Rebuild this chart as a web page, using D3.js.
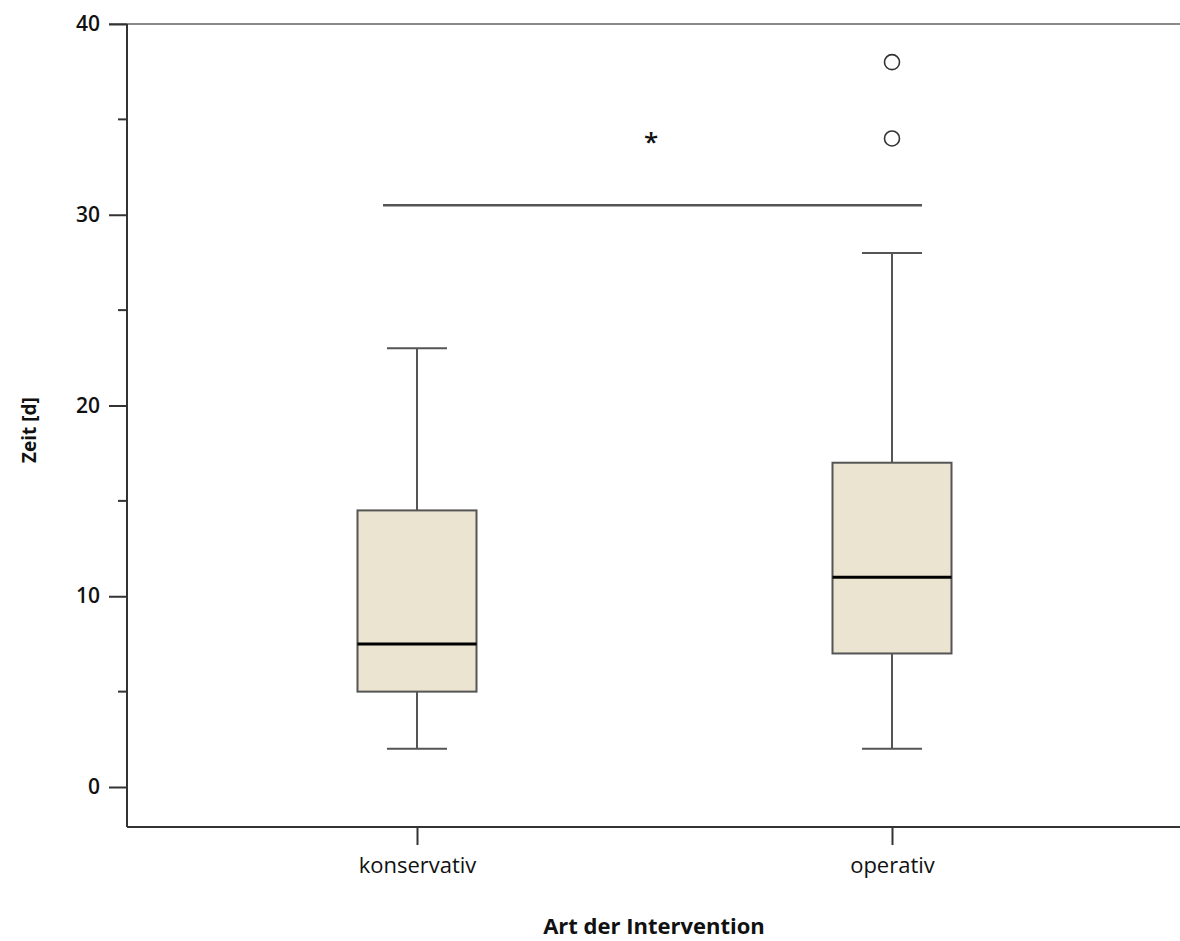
<!DOCTYPE html>
<html>
<head>
<meta charset="utf-8">
<script src="https://cdn.jsdelivr.net/npm/d3@7"></script>
<style>
  body { margin: 0; background: #fff; }
  text { font-family: "Open Sans", "Noto Sans", sans-serif; fill: #111; }
</style>
</head>
<body>
<svg id="chart" width="1180" height="941"></svg>
<script>
// categories and box statistics (days)
var categories = ['konservativ', 'operativ'];
var whiskerLow = [2, 2];
var q1 = [5, 7];
var median = [7.5, 11];
var q3 = [14.5, 17];
var whiskerHigh = [23, 28];
var outliers = [[], [34, 38]];
var yTicks = [0, 10, 20, 30, 40];
var yMinorTicks = [5, 15, 25, 35];
var sigLevel = 30.5;
var sigStarY = 34;

var svg = d3.select('#chart');
var plotLeft = 127, plotTop = 24, plotRight = 1180, plotBottom = 827;

var y = d3.scaleLinear().domain([0, 40]).range([787, plotTop]);
var x = d3.scalePoint().domain(categories).range([417, 892]);

var boxW = 119, capW = 60;

// top frame line
svg.append('line')
  .attr('x1', 109).attr('x2', plotRight)
  .attr('y1', y(40)).attr('y2', y(40))
  .attr('stroke', '#8a8a8a').attr('stroke-width', 2);

// y axis
var yAxis = d3.axisLeft(y).tickValues(yTicks).tickSize(18).tickPadding(9);
var gy = svg.append('g').attr('transform', 'translate(' + plotLeft + ',0)').call(yAxis);
gy.select('.domain').remove();
gy.selectAll('.tick line').attr('stroke', '#333').attr('stroke-width', 2);
gy.selectAll('.tick text').style('font-size', '21px').style('font-weight', '600');
gy.selectAll('.minor').data(yMinorTicks).enter().append('line')
  .attr('x1', -9).attr('x2', 0)
  .attr('y1', function(d){ return y(d); }).attr('y2', function(d){ return y(d); })
  .attr('stroke', '#333').attr('stroke-width', 2);
svg.append('line')
  .attr('x1', plotLeft).attr('x2', plotLeft).attr('y1', plotTop).attr('y2', plotBottom)
  .attr('stroke', '#333').attr('stroke-width', 2);

// x axis
var xAxis = d3.axisBottom(x).tickSize(18).tickPadding(12);
var gx = svg.append('g').attr('transform', 'translate(0,' + plotBottom + ')').call(xAxis);
gx.select('.domain').remove();
gx.selectAll('.tick line').attr('stroke', '#333').attr('stroke-width', 2);
gx.selectAll('.tick text').style('font-size', '22px');
svg.append('line')
  .attr('x1', plotLeft).attr('x2', plotRight).attr('y1', plotBottom).attr('y2', plotBottom)
  .attr('stroke', '#333').attr('stroke-width', 2);

// axis titles
svg.append('text')
  .attr('x', 654).attr('y', 934)
  .attr('text-anchor', 'middle')
  .style('font-size', '22px').style('font-weight', 'bold')
  .text('Art der Intervention');
svg.append('text')
  .attr('transform', 'translate(36,430) rotate(-90)')
  .attr('text-anchor', 'middle')
  .style('font-size', '19px').style('font-weight', 'bold')
  .text('Zeit [d]');

// boxes
var g = svg.selectAll('.box').data(categories).enter().append('g').attr('class', 'box');
g.append('line')
  .attr('x1', function(d){ return x(d); }).attr('x2', function(d){ return x(d); })
  .attr('y1', function(d, i){ return y(whiskerLow[i]); })
  .attr('y2', function(d, i){ return y(whiskerHigh[i]); })
  .attr('stroke', '#555').attr('stroke-width', 2);
g.selectAll('.cap').data(function(d, i){ return [[d, whiskerLow[i]], [d, whiskerHigh[i]]]; })
  .enter().append('line')
  .attr('x1', function(d){ return x(d[0]) - capW / 2; })
  .attr('x2', function(d){ return x(d[0]) + capW / 2; })
  .attr('y1', function(d){ return y(d[1]); }).attr('y2', function(d){ return y(d[1]); })
  .attr('stroke', '#555').attr('stroke-width', 2);
g.append('rect')
  .attr('x', function(d){ return x(d) - boxW / 2; })
  .attr('width', boxW)
  .attr('y', function(d, i){ return y(q3[i]); })
  .attr('height', function(d, i){ return y(q1[i]) - y(q3[i]); })
  .attr('fill', '#ebe4d0').attr('stroke', '#555').attr('stroke-width', 2);
g.append('line')
  .attr('x1', function(d){ return x(d) - boxW / 2; })
  .attr('x2', function(d){ return x(d) + boxW / 2; })
  .attr('y1', function(d, i){ return y(median[i]); })
  .attr('y2', function(d, i){ return y(median[i]); })
  .attr('stroke', '#000').attr('stroke-width', 3);

// outliers
categories.forEach(function(c, i) {
  svg.selectAll('.out' + i).data(outliers[i]).enter().append('circle')
    .attr('cx', x(c)).attr('cy', function(d){ return y(d); })
    .attr('r', 7.5).attr('fill', 'none').attr('stroke', '#333').attr('stroke-width', 1.6);
});

// significance bar
svg.append('line')
  .attr('x1', 383).attr('x2', 922)
  .attr('y1', y(sigLevel)).attr('y2', y(sigLevel))
  .attr('stroke', '#555').attr('stroke-width', 2.5);
svg.append('text')
  .attr('x', 651).attr('y', y(sigStarY) + 13)
  .attr('text-anchor', 'middle')
  .style('font-size', '26px').style('font-weight', '600')
  .text('*');
</script>
</body>
</html>
